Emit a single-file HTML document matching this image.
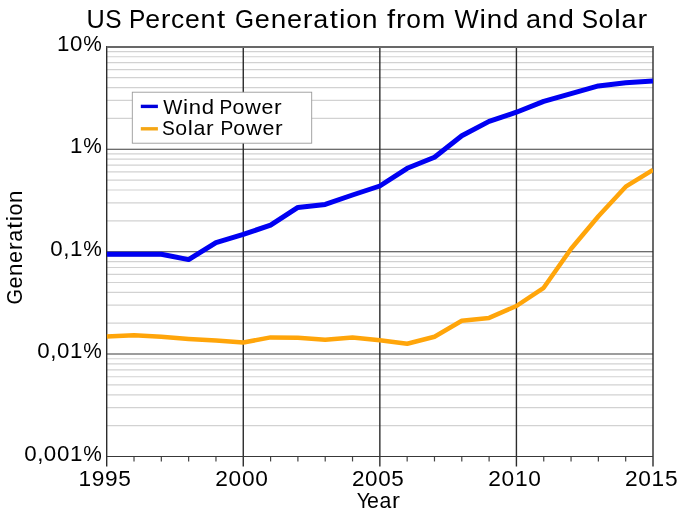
<!DOCTYPE html>
<html><head><meta charset="utf-8"><title>US Percent Generation from Wind and Solar</title>
<style>html,body{margin:0;padding:0;background:#fff;}body{width:683px;height:512px;overflow:hidden;}svg{display:block;will-change:transform;}text{font-family:"Liberation Sans",sans-serif;fill:#000;}</style></head><body>
<svg width="683" height="512" viewBox="0 0 683 512">
<defs><clipPath id="plot"><rect x="106.7" y="46.9" width="546.3" height="409.6"/></clipPath></defs>
<rect width="683" height="512" fill="#fff"/>
<g stroke="#d2d2d2" stroke-width="1.2">
<line x1="106.7" x2="653.0" y1="425.62" y2="425.62"/>
<line x1="106.7" x2="653.0" y1="407.59" y2="407.59"/>
<line x1="106.7" x2="653.0" y1="394.80" y2="394.80"/>
<line x1="106.7" x2="653.0" y1="384.88" y2="384.88"/>
<line x1="106.7" x2="653.0" y1="376.77" y2="376.77"/>
<line x1="106.7" x2="653.0" y1="369.91" y2="369.91"/>
<line x1="106.7" x2="653.0" y1="363.97" y2="363.97"/>
<line x1="106.7" x2="653.0" y1="358.74" y2="358.74"/>
<line x1="106.7" x2="653.0" y1="323.22" y2="323.22"/>
<line x1="106.7" x2="653.0" y1="305.19" y2="305.19"/>
<line x1="106.7" x2="653.0" y1="292.40" y2="292.40"/>
<line x1="106.7" x2="653.0" y1="282.48" y2="282.48"/>
<line x1="106.7" x2="653.0" y1="274.37" y2="274.37"/>
<line x1="106.7" x2="653.0" y1="267.51" y2="267.51"/>
<line x1="106.7" x2="653.0" y1="261.57" y2="261.57"/>
<line x1="106.7" x2="653.0" y1="256.34" y2="256.34"/>
<line x1="106.7" x2="653.0" y1="220.82" y2="220.82"/>
<line x1="106.7" x2="653.0" y1="202.79" y2="202.79"/>
<line x1="106.7" x2="653.0" y1="190.00" y2="190.00"/>
<line x1="106.7" x2="653.0" y1="180.08" y2="180.08"/>
<line x1="106.7" x2="653.0" y1="171.97" y2="171.97"/>
<line x1="106.7" x2="653.0" y1="165.11" y2="165.11"/>
<line x1="106.7" x2="653.0" y1="159.17" y2="159.17"/>
<line x1="106.7" x2="653.0" y1="153.94" y2="153.94"/>
<line x1="106.7" x2="653.0" y1="118.42" y2="118.42"/>
<line x1="106.7" x2="653.0" y1="100.39" y2="100.39"/>
<line x1="106.7" x2="653.0" y1="87.60" y2="87.60"/>
<line x1="106.7" x2="653.0" y1="77.68" y2="77.68"/>
<line x1="106.7" x2="653.0" y1="69.57" y2="69.57"/>
<line x1="106.7" x2="653.0" y1="62.71" y2="62.71"/>
<line x1="106.7" x2="653.0" y1="56.77" y2="56.77"/>
<line x1="106.7" x2="653.0" y1="51.54" y2="51.54"/>
</g>
<g stroke="#3c3c3c" stroke-width="1.05">
<line x1="106.7" x2="653.0" y1="149.25" y2="149.25"/>
<line x1="106.7" x2="653.0" y1="251.65" y2="251.65"/>
<line x1="106.7" x2="653.0" y1="354.05" y2="354.05"/>
</g>
<g stroke="#2c2c2c" stroke-width="1.4">
<line x1="243.27" x2="243.27" y1="46.85" y2="466.45"/>
<line x1="379.85" x2="379.85" y1="46.85" y2="466.45"/>
<line x1="516.42" x2="516.42" y1="46.85" y2="466.45"/>
</g>
<g stroke="#444" stroke-width="1.2">
<line x1="134.01" x2="134.01" y1="456.45" y2="461.45"/>
<line x1="161.33" x2="161.33" y1="456.45" y2="461.45"/>
<line x1="188.64" x2="188.64" y1="456.45" y2="461.45"/>
<line x1="215.96" x2="215.96" y1="456.45" y2="461.45"/>
<line x1="270.59" x2="270.59" y1="456.45" y2="461.45"/>
<line x1="297.90" x2="297.90" y1="456.45" y2="461.45"/>
<line x1="325.22" x2="325.22" y1="456.45" y2="461.45"/>
<line x1="352.53" x2="352.53" y1="456.45" y2="461.45"/>
<line x1="407.16" x2="407.16" y1="456.45" y2="461.45"/>
<line x1="434.48" x2="434.48" y1="456.45" y2="461.45"/>
<line x1="461.79" x2="461.79" y1="456.45" y2="461.45"/>
<line x1="489.11" x2="489.11" y1="456.45" y2="461.45"/>
<line x1="543.74" x2="543.74" y1="456.45" y2="461.45"/>
<line x1="571.05" x2="571.05" y1="456.45" y2="461.45"/>
<line x1="598.37" x2="598.37" y1="456.45" y2="461.45"/>
<line x1="625.68" x2="625.68" y1="456.45" y2="461.45"/>
</g>
<g stroke="#2c2c2c" fill="none">
<line x1="106.7" x2="106.7" y1="46.1" y2="466.45" stroke-width="1.4"/>
<line x1="653.0" x2="653.0" y1="46.1" y2="466.45" stroke-width="1.4"/>
<line x1="106.7" x2="653.0" y1="47.0" y2="47.0" stroke-width="1.8" stroke="#686868"/>
<line x1="106.7" x2="653.0" y1="456.45" y2="456.45" stroke-width="1.05" stroke="#383838"/>
</g>
<g fill="none" stroke-linejoin="round" clip-path="url(#plot)">
<polyline id="wind" stroke="#0000f2" stroke-width="5" points="106.7,254.2 134.0,254.2 161.3,254.2 188.6,259.6 216.0,242.6 243.3,234.4 270.6,225.1 297.9,207.4 325.2,204.4 352.5,195.0 379.8,186.0 407.2,168.3 434.5,157.3 461.8,135.8 489.1,121.4 516.4,112.2 543.7,101.4 571.1,93.6 598.4,85.9 625.7,82.7 653.0,80.9"/>
<polyline id="solar" stroke="#ffa50a" stroke-width="4.5" points="106.7,336.6 134.0,335.2 161.3,336.8 188.6,339.0 216.0,340.6 243.3,342.5 270.6,337.4 297.9,337.8 325.2,339.8 352.5,337.4 379.8,340.3 407.2,343.8 434.5,336.8 461.8,320.8 489.1,317.9 516.4,306.0 543.7,287.8 571.1,248.8 598.4,216.3 625.7,186.7 653.0,169.8"/>
</g>
<rect x="132.3" y="92.2" width="179.4" height="51" fill="#fff" stroke="#9a9a9a" stroke-width="0.9"/>
<line x1="140.8" x2="157.9" y1="106.4" y2="106.4" stroke="#0000dc" stroke-width="3.4"/>
<line x1="140.8" x2="157.9" y1="128.8" y2="128.8" stroke="#f5a614" stroke-width="3.4"/>
<text transform="translate(86.39 28) scale(0.9732 1)" font-size="26.0">U</text>
<text transform="translate(105.34 28) scale(0.9400 1)" font-size="26.0">S</text>
<text transform="translate(129.09 28) scale(0.9400 1)" font-size="26.0">P</text>
<text transform="translate(145.24 28) scale(1.0205 1)" font-size="26.0">e</text>
<text transform="translate(160.73 28) scale(1.1200 1)" font-size="26.0">r</text>
<text transform="translate(171.12 28) scale(1.0151 1)" font-size="26.0">c</text>
<text transform="translate(185.05 28) scale(1.0205 1)" font-size="26.0">e</text>
<text transform="translate(200.59 28) scale(1.0520 1)" font-size="26.0">n</text>
<text transform="translate(217.11 28) scale(1.1200 1)" font-size="26.0">t</text>
<text transform="translate(234.92 28) scale(0.9400 1)" font-size="26.0">G</text>
<text transform="translate(254.79 28) scale(1.0395 1)" font-size="26.0">e</text>
<text transform="translate(270.63 28) scale(1.0716 1)" font-size="26.0">n</text>
<text transform="translate(286.93 28) scale(1.0395 1)" font-size="26.0">e</text>
<text transform="translate(302.79 28) scale(1.1200 1)" font-size="26.0">r</text>
<text transform="translate(313.32 28) scale(1.0361 1)" font-size="26.0">a</text>
<text transform="translate(329.69 28) scale(1.1200 1)" font-size="26.0">t</text>
<text transform="translate(339.12 28) scale(1.1200 1)" font-size="26.0">i</text>
<text transform="translate(346.33 28) scale(1.0344 1)" font-size="26.0">o</text>
<text transform="translate(362.08 28) scale(1.0716 1)" font-size="26.0">n</text>
<text transform="translate(387.11 28) scale(1.1200 1)" font-size="26.0">f</text>
<text transform="translate(395.93 28) scale(1.1200 1)" font-size="26.0">r</text>
<text transform="translate(406.34 28) scale(1.0137 1)" font-size="26.0">o</text>
<text transform="translate(422.00 28) scale(1.0771 1)" font-size="26.0">m</text>
<text transform="translate(454.49 28) scale(0.9841 1)" font-size="26.0">W</text>
<text transform="translate(479.61 28) scale(1.1200 1)" font-size="26.0">i</text>
<text transform="translate(486.83 28) scale(1.0707 1)" font-size="26.0">n</text>
<text transform="translate(503.12 28) scale(1.0724 1)" font-size="26.0">d</text>
<text transform="translate(525.94 28) scale(1.0446 1)" font-size="26.0">a</text>
<text transform="translate(541.86 28) scale(1.0804 1)" font-size="26.0">n</text>
<text transform="translate(558.30 28) scale(1.0821 1)" font-size="26.0">d</text>
<text transform="translate(581.84 28) scale(0.9400 1)" font-size="26.0">S</text>
<text transform="translate(598.58 28) scale(1.0380 1)" font-size="26.0">o</text>
<text transform="translate(614.34 28) scale(1.1200 1)" font-size="26.0">l</text>
<text transform="translate(621.56 28) scale(1.0397 1)" font-size="26.0">a</text>
<text transform="translate(637.45 28) scale(1.1200 1)" font-size="26.0">r</text>
<text transform="translate(163.13 114) scale(0.9953 1)" font-size="20.4">W</text>
<text transform="translate(183.10 114) scale(1.1200 1)" font-size="20.4">i</text>
<text transform="translate(188.79 114) scale(1.0829 1)" font-size="20.4">n</text>
<text transform="translate(201.73 114) scale(1.0846 1)" font-size="20.4">d</text>
<text transform="translate(219.55 114) scale(0.9400 1)" font-size="20.4">P</text>
<text transform="translate(232.40 114) scale(1.0436 1)" font-size="20.4">o</text>
<text transform="translate(244.96 114) scale(1.0742 1)" font-size="20.4">w</text>
<text transform="translate(261.52 114) scale(1.0487 1)" font-size="20.4">e</text>
<text transform="translate(274.11 114) scale(1.1200 1)" font-size="20.4">r</text>
<text transform="translate(162.04 135) scale(0.9400 1)" font-size="20.4">S</text>
<text transform="translate(175.23 135) scale(1.0464 1)" font-size="20.4">o</text>
<text transform="translate(187.71 135) scale(1.1200 1)" font-size="20.4">l</text>
<text transform="translate(193.40 135) scale(1.0481 1)" font-size="20.4">a</text>
<text transform="translate(206.00 135) scale(1.1200 1)" font-size="20.4">r</text>
<text transform="translate(220.46 135) scale(0.9400 1)" font-size="20.4">P</text>
<text transform="translate(233.31 135) scale(1.0453 1)" font-size="20.4">o</text>
<text transform="translate(245.90 135) scale(1.0760 1)" font-size="20.4">w</text>
<text transform="translate(262.48 135) scale(1.0504 1)" font-size="20.4">e</text>
<text transform="translate(275.10 135) scale(1.1200 1)" font-size="20.4">r</text>
<text transform="translate(56.97 51) scale(1.0514 1)" font-size="21.2">1</text>
<text transform="translate(70.02 51) scale(1.0514 1)" font-size="21.2">0</text>
<text transform="translate(83.23 51) scale(0.9823 1)" font-size="21.2">%</text>
<text transform="translate(70.07 153) scale(1.0495 1)" font-size="21.2">1</text>
<text transform="translate(83.26 153) scale(0.9805 1)" font-size="21.2">%</text>
<text transform="translate(50.37 256) scale(1.0529 1)" font-size="21.2">0</text>
<text transform="translate(63.28 256) scale(1.0539 1)" font-size="21.2">,</text>
<text transform="translate(69.97 256) scale(1.0529 1)" font-size="21.2">1</text>
<text transform="translate(83.20 256) scale(0.9837 1)" font-size="21.2">%</text>
<text transform="translate(37.37 358) scale(1.0518 1)" font-size="21.2">0</text>
<text transform="translate(50.26 358) scale(1.0527 1)" font-size="21.2">,</text>
<text transform="translate(56.95 358) scale(1.0518 1)" font-size="21.2">0</text>
<text transform="translate(70.01 358) scale(1.0518 1)" font-size="21.2">1</text>
<text transform="translate(83.22 358) scale(0.9827 1)" font-size="21.2">%</text>
<text transform="translate(24.27 461) scale(1.0524 1)" font-size="21.2">0</text>
<text transform="translate(37.17 461) scale(1.0534 1)" font-size="21.2">,</text>
<text transform="translate(43.86 461) scale(1.0524 1)" font-size="21.2">0</text>
<text transform="translate(56.93 461) scale(1.0524 1)" font-size="21.2">0</text>
<text transform="translate(69.99 461) scale(1.0524 1)" font-size="21.2">1</text>
<text transform="translate(83.21 461) scale(0.9833 1)" font-size="21.2">%</text>
<text transform="translate(78.54 486) scale(1.0697 1)" font-size="21.2">1</text>
<text transform="translate(91.81 486) scale(1.0697 1)" font-size="21.2">9</text>
<text transform="translate(105.09 486) scale(1.0697 1)" font-size="21.2">9</text>
<text transform="translate(118.36 486) scale(1.0697 1)" font-size="21.2">5</text>
<text transform="translate(215.31 486) scale(1.0718 1)" font-size="21.2">2</text>
<text transform="translate(228.61 486) scale(1.0718 1)" font-size="21.2">0</text>
<text transform="translate(241.91 486) scale(1.0718 1)" font-size="21.2">0</text>
<text transform="translate(255.21 486) scale(1.0718 1)" font-size="21.2">0</text>
<text transform="translate(351.92 486) scale(1.0596 1)" font-size="21.2">2</text>
<text transform="translate(365.07 486) scale(1.0596 1)" font-size="21.2">0</text>
<text transform="translate(378.22 486) scale(1.0596 1)" font-size="21.2">0</text>
<text transform="translate(391.37 486) scale(1.0596 1)" font-size="21.2">5</text>
<text transform="translate(488.31 486) scale(1.0718 1)" font-size="21.2">2</text>
<text transform="translate(501.61 486) scale(1.0718 1)" font-size="21.2">0</text>
<text transform="translate(514.91 486) scale(1.0718 1)" font-size="21.2">1</text>
<text transform="translate(528.21 486) scale(1.0718 1)" font-size="21.2">0</text>
<text transform="translate(625.01 486) scale(1.0724 1)" font-size="21.2">2</text>
<text transform="translate(638.31 486) scale(1.0724 1)" font-size="21.2">0</text>
<text transform="translate(651.62 486) scale(1.0724 1)" font-size="21.2">1</text>
<text transform="translate(664.93 486) scale(1.0724 1)" font-size="21.2">5</text>
<text transform="translate(356.85 508) scale(0.9400 1)" font-size="21.2">Y</text>
<text transform="translate(367.05 508) scale(1.0057 1)" font-size="21.2">e</text>
<text transform="translate(379.53 508) scale(1.0024 1)" font-size="21.2">a</text>
<text transform="translate(391.88 508) scale(1.1200 1)" font-size="21.2">r</text>
<text transform="translate(22 304.55) rotate(-90) scale(0.9400 1)" font-size="21.2">G</text>
<text transform="translate(22 288.53) rotate(-90) scale(1.0169 1)" font-size="21.2">e</text>
<text transform="translate(22 275.90) rotate(-90) scale(1.0484 1)" font-size="21.2">n</text>
<text transform="translate(22 262.90) rotate(-90) scale(1.0169 1)" font-size="21.2">e</text>
<text transform="translate(22 250.33) rotate(-90) scale(1.1200 1)" font-size="21.2">r</text>
<text transform="translate(22 241.84) rotate(-90) scale(1.0136 1)" font-size="21.2">a</text>
<text transform="translate(22 228.85) rotate(-90) scale(1.1200 1)" font-size="21.2">t</text>
<text transform="translate(22 221.32) rotate(-90) scale(1.1200 1)" font-size="21.2">i</text>
<text transform="translate(22 215.51) rotate(-90) scale(1.0120 1)" font-size="21.2">o</text>
<text transform="translate(22 202.94) rotate(-90) scale(1.0484 1)" font-size="21.2">n</text>
</svg></body></html>
